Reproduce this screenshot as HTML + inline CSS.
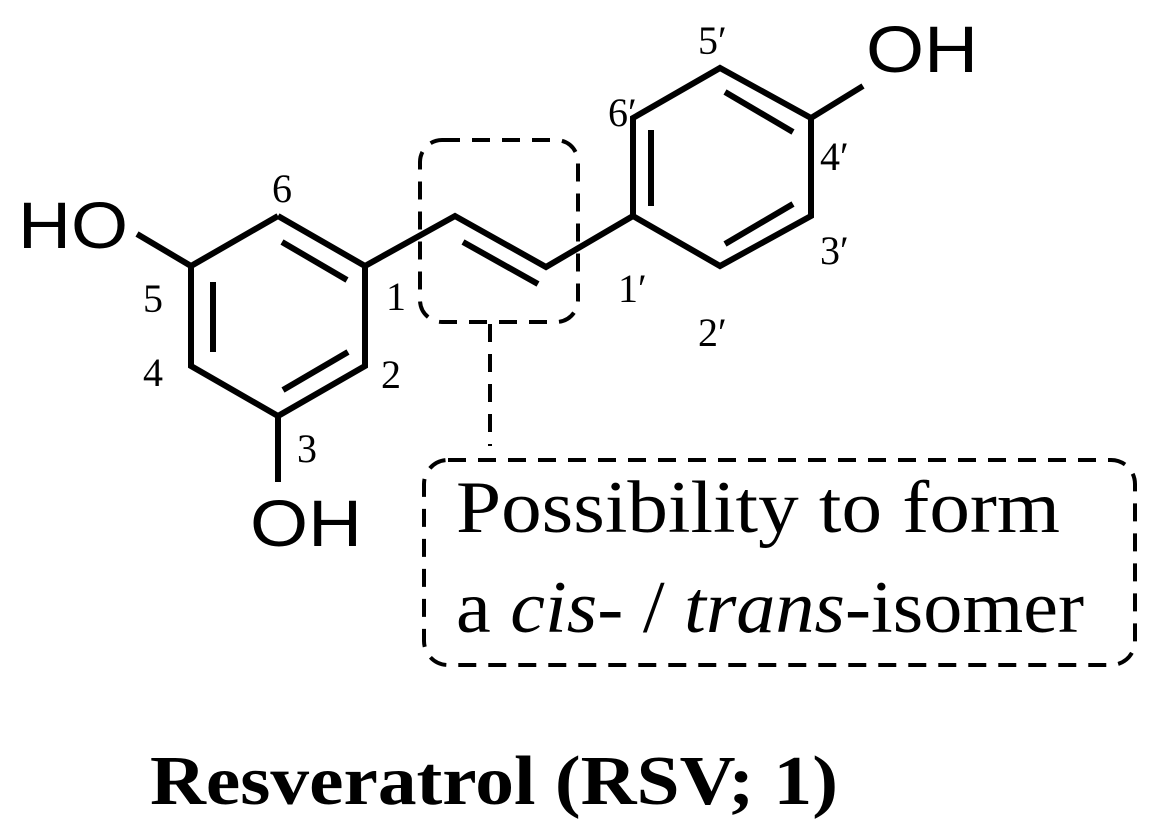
<!DOCTYPE html>
<html><head><meta charset="utf-8"><style>
html,body{margin:0;padding:0;background:#fff;}
svg{display:block;}
</style></head><body>
<svg width="1157" height="840" viewBox="0 0 1157 840" xmlns="http://www.w3.org/2000/svg">
<g stroke="#000" stroke-width="6" fill="none" stroke-linejoin="miter" stroke-linecap="butt">
<polyline points="278,216 365,266 365,366 278,416 191,366 191,266 278,216"/>
<line x1="282" y1="242" x2="347" y2="280"/>
<line x1="348" y1="352" x2="283" y2="390"/>
<line x1="213" y1="282" x2="213" y2="352"/>
<line x1="191" y1="266" x2="137" y2="234"/>
<line x1="278" y1="416" x2="278" y2="482"/>
<polyline points="365,266 455,216 546,267 633,216"/>
<line x1="463" y1="242" x2="538" y2="284"/>
<polyline points="633,216 633,118 720,68 811,118 811,216 720,266 633,216"/>
<line x1="651" y1="130" x2="651" y2="206"/>
<line x1="725" y1="92" x2="793" y2="132"/>
<line x1="793" y1="204" x2="725" y2="244"/>
<line x1="811" y1="118" x2="863" y2="86"/>
</g>
<g stroke="#000" stroke-width="4" fill="none" stroke-dasharray="18,12">
<rect x="420" y="140" width="158" height="182" rx="22"/>
<line x1="490" y1="324" x2="490" y2="446"/>
<rect x="424" y="460" width="711" height="205" rx="24"/>
</g>
<g font-family="Liberation Sans, sans-serif" font-size="66" fill="#000">
<text x="18" y="248" textLength="110" lengthAdjust="spacingAndGlyphs">HO</text>
<text x="250" y="546" textLength="112" lengthAdjust="spacingAndGlyphs">OH</text>
<text x="866" y="72" textLength="112" lengthAdjust="spacingAndGlyphs">OH</text>
</g>
<g font-family="Liberation Serif, serif" font-size="40" fill="#000">
<text x="272" y="202">6</text>
<text x="143" y="312">5</text>
<text x="143" y="386">4</text>
<text x="381" y="388">2</text>
<text x="297" y="462">3</text>
<text x="386" y="310">1</text>
<text x="608" y="126">6′</text>
<text x="698" y="54">5′</text>
<text x="820" y="170">4′</text>
<text x="820" y="264">3′</text>
<text x="618" y="302">1′</text>
<text x="698" y="346">2′</text>
</g>
<g font-family="Liberation Serif, serif" font-size="74" fill="#000">
<text x="456" y="532" textLength="604" lengthAdjust="spacingAndGlyphs">Possibility to form</text>
<text x="456" y="632" textLength="628" lengthAdjust="spacingAndGlyphs">a <tspan font-style="italic">cis</tspan>- / <tspan font-style="italic">trans</tspan>-isomer</text>
<text x="150" y="804" font-size="70" font-weight="bold" textLength="688" lengthAdjust="spacingAndGlyphs">Resveratrol (RSV; 1)</text>
</g>
</svg>
</body></html>
